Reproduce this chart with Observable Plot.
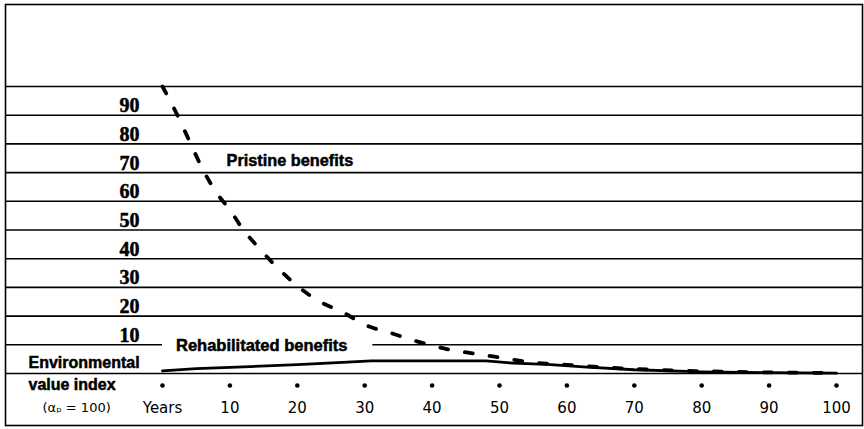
<!DOCTYPE html>
<html><head><meta charset="utf-8">
<script src="https://cdn.jsdelivr.net/npm/d3@7"></script>
<script src="https://cdn.jsdelivr.net/npm/@observablehq/plot@0.6"></script>
<style>
html,body{margin:0;padding:0;background:#fff;}
</style></head><body><div id="chart"></div>
<script>
// ---- data ----
const pristineYears  = [0, 2, 4, 6, 8, 10, 12, 14, 17, 20, 23, 27, 30, 34, 38, 42, 46, 50, 55, 60, 70, 80, 90, 100];
const pristineValues = [100, 91, 81, 71, 63, 57, 50, 44.5, 37, 30.5, 25.5, 21, 17, 14, 11, 8.6, 7, 5.6, 3.8, 3.0, 1.6, 0.8, 0.4, 0.2];
const rehabYears  = [0, 5, 13, 20, 26, 31, 40, 48, 52, 57, 63, 70, 80, 90, 100];
const rehabValues = [0.9, 1.7, 2.4, 3.1, 3.8, 4.4, 4.4, 4.4, 3.6, 3.2, 2.2, 1.3, 0.6, 0.3, 0.1];
const yTicks = [10, 20, 30, 40, 50, 60, 70, 80, 90];
const gridValues = [0, 10, 20, 30, 40, 50, 60, 70, 80, 90, 100];
const xTicks = [0, 10, 20, 30, 40, 50, 60, 70, 80, 90, 100];
const xTickLabels = ["Years", "10", "20", "30", "40", "50", "60", "70", "80", "90", "100"];
const seriesNames = ["Pristine benefits", "Rehabilitated benefits"];
const axisTitle = ["Environmental", "value index"];
const axisNote = "(αₚ = 100)";

const pristine = pristineYears.map((y, i) => ({year: y, value: pristineValues[i]}));
const rehab = rehabYears.map((y, i) => ({year: y, value: rehabValues[i]}));

// annotation anchors (data space)
const pristineLabelAt = {year: 9.5, value: 72.2};
const rehabLabelAt = {year: 2.0, value: 7.7};
const rehabGap = [0, 31.2]; // gridline at 10 interrupted by label

const boldSans = "'Liberation Sans', Arial, sans-serif";
const lightSans = "'DejaVu Sans', 'Liberation Sans', sans-serif";
const heavy = {fontWeight: "bold", fill: "#000", stroke: "#000", strokeWidth: 0.5};

const chart = Plot.plot({
  width: 864, height: 429,
  marginLeft: 162, marginRight: 28, marginTop: 86, marginBottom: 56,
  x: {domain: [0, 100], axis: null},
  y: {domain: [0, 100], axis: null},
  style: {background: "#fff", color: "#000"},
  marks: [
    Plot.frame({insetLeft: -157, insetRight: -26, insetTop: -82, insetBottom: -52, stroke: "#000", strokeWidth: 1.6}),
    Plot.ruleY(gridValues.filter(d => d !== 10), {insetLeft: -157, insetRight: -26, stroke: "#000", strokeWidth: 1.6}),
    Plot.ruleY([10], {x1: rehabGap[0], x2: rehabGap[0], insetLeft: -157, stroke: "#000", strokeWidth: 1.6}),
    Plot.ruleY([10], {x1: rehabGap[1], x2: 100, insetRight: -26, stroke: "#000", strokeWidth: 1.6}),
    Plot.line(rehab, {x: "year", y: "value", stroke: "#000", strokeWidth: 2.8}),
    Plot.line(pristine, {x: "year", y: "value", stroke: "#000", strokeWidth: 3.8, strokeDasharray: "8,17", curve: "monotone-x"}),
    Plot.text([seriesNames[0]], {x: pristineLabelAt.year, y: pristineLabelAt.value, text: d => d, textAnchor: "start", lineAnchor: "bottom", fontFamily: boldSans, fontSize: 16.3, ...heavy}),
    Plot.text([seriesNames[1]], {x: rehabLabelAt.year, y: rehabLabelAt.value, text: d => d, textAnchor: "start", lineAnchor: "bottom", fontFamily: boldSans, fontSize: 16.5, ...heavy}),
    Plot.text(yTicks, {y: d => d, text: d => String(d), frameAnchor: "left", textAnchor: "end", lineAnchor: "bottom", dx: -23, dy: -3, fontFamily: "'Liberation Serif', 'DejaVu Serif', serif", fontSize: 20, ...heavy}),
    Plot.text([axisTitle[0]], {text: d => d, frameAnchor: "bottom-left", textAnchor: "start", lineAnchor: "bottom", dx: -134, dy: -6, fontFamily: boldSans, fontSize: 16, ...heavy}),
    Plot.text([axisTitle[1]], {text: d => d, frameAnchor: "bottom-left", textAnchor: "start", lineAnchor: "bottom", dx: -134, dy: 16, fontFamily: boldSans, fontSize: 16, ...heavy}),
    Plot.text([axisNote], {text: d => d, frameAnchor: "bottom-left", textAnchor: "start", lineAnchor: "bottom", dx: -120, dy: 38, fontFamily: lightSans, fontSize: 13, fill: "#000"}),
    Plot.dot(xTicks, {x: d => d, frameAnchor: "bottom", dy: 12, r: 2.3, fill: "#000", stroke: "none"}),
    Plot.text(xTicks, {x: d => d, text: (d, i) => xTickLabels[i], frameAnchor: "bottom", lineAnchor: "top", dy: 29, fontFamily: lightSans, fontSize: 15, fill: "#000"})
  ]
});
document.getElementById("chart").appendChild(chart);
</script>
</body></html>
